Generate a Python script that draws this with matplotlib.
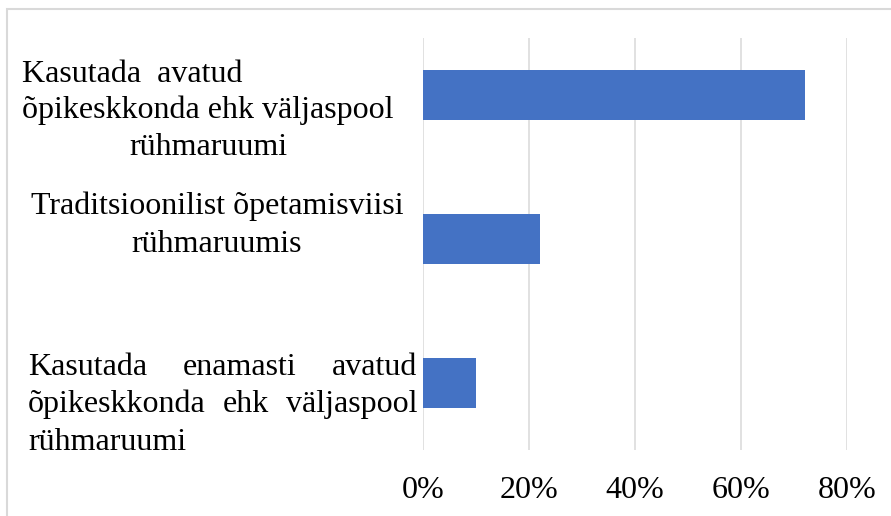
import matplotlib
matplotlib.use("Agg")
import matplotlib.pyplot as plt
from matplotlib.ticker import PercentFormatter
from matplotlib.patches import Rectangle

# data
categories = [
    "Kasutada  avatud õpikeskkonda ehk väljaspool rühmaruumi",
    "Traditsioonilist õpetamisviisi rühmaruumis",
    "Kasutada enamasti avatud õpikeskkonda ehk väljaspool rühmaruumi",
]
shares = [0.72, 0.22, 0.10]
x_ticks = [0.0, 0.2, 0.4, 0.6, 0.8]

W, H = 891, 516
plt.rcParams['font.family'] = ['Liberation Serif', 'DejaVu Serif']
FS = 23
TICK_FS = 23

fig = plt.figure(figsize=(W / 100, H / 100), dpi=100)
ax = fig.add_axes([423 / W, 1 - 450 / H, (847 - 423) / W, (450 - 38) / H])

ypos = list(range(len(categories)))
ax.barh(ypos, shares, height=0.35, color='#4472C4', zorder=3)
ax.set_ylim(2.465, -0.396)
ax.set_xlim(0, 0.8)
ax.set_xticks(x_ticks)
ax.xaxis.set_major_formatter(PercentFormatter(xmax=1, decimals=0))
ax.tick_params(axis='x', length=0, pad=19, labelsize=TICK_FS)
ax.set_yticks([])
ax.grid(axis='x', color='#d9d9d9', linewidth=1.1, zorder=0)
for s in ax.spines.values():
    s.set_visible(False)

# outer frame (only top and left edges are visible in the crop)
fig.add_artist(Rectangle((7 / W, -0.2), 1.5, 1.2 - 8.5 / H, transform=fig.transFigure,
                         fill=False, edgecolor='#d9d9d9', linewidth=1.5))


def fy(px):
    return 1 - px / H


def put(s, x, y, ha):
    return fig.text(x / W, fy(y), s, ha=ha, va='baseline', fontsize=FS)


def justify(words, x0, x1, y):
    txts = [put(w, x0, y, 'left') for w in words]
    fig.canvas.draw()
    r = fig.canvas.get_renderer()
    widths = [t.get_window_extent(r).width for t in txts]
    gap = (x1 - x0 - sum(widths)) / (len(words) - 1)
    x = x0
    for t, w in zip(txts, widths):
        t.set_x(x / W)
        x += w + gap


# label 1
put("Kasutada  avatud", 22, 82, 'left')
put("õpikeskkonda ehk väljaspool", 208, 118, 'center')
put("rühmaruumi", 208, 155, 'center')
# label 2
put("Traditsioonilist õpetamisviisi", 217, 214, 'center')
put("rühmaruumis", 217, 252, 'center')
# label 3 (justified)
justify(["Kasutada", "enamasti", "avatud"], 28, 417, 375)
justify(["õpikeskkonda", "ehk", "väljaspool"], 28, 417, 412)
put("rühmaruumi", 28, 450, 'left')

fig.savefig("out.png", dpi=100)
